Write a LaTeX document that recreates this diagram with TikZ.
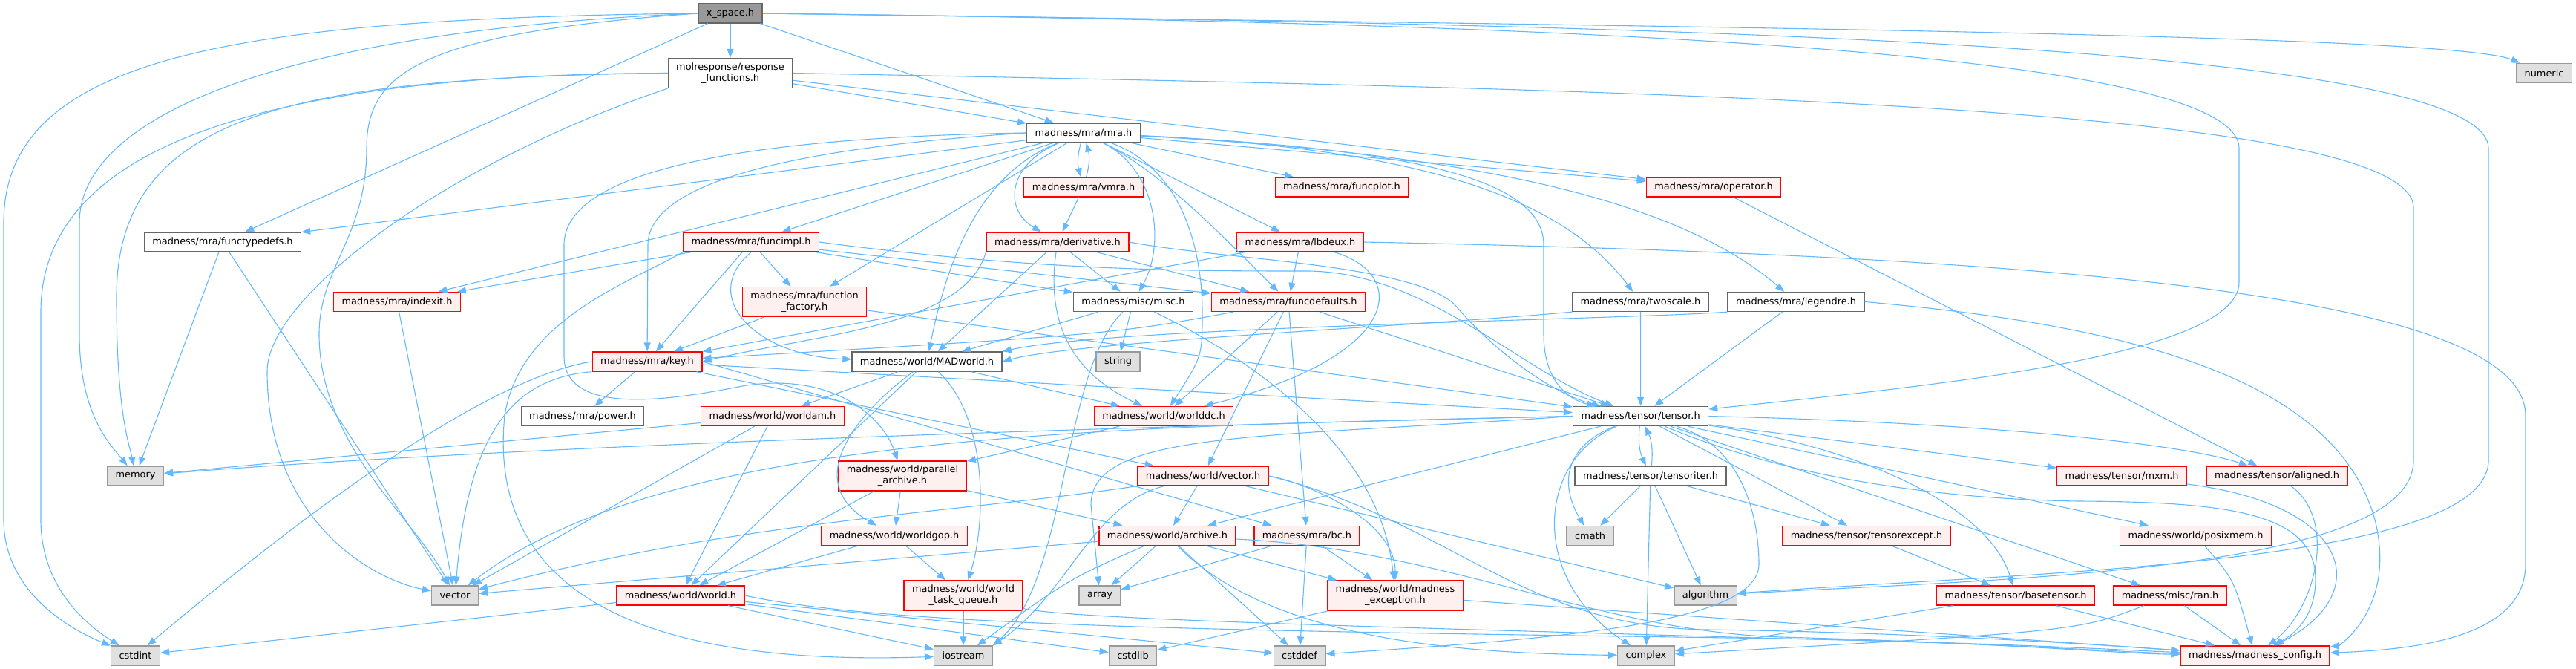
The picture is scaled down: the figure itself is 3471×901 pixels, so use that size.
\documentclass[tikz,border=0pt]{standalone}
\usepackage{fontspec}
\setmainfont{DejaVu Sans}
\usepackage{xcolor}
\usepackage{tikz}
\usetikzlibrary{arrows.meta}

\definecolor{edgeblue}{HTML}{63B8FF}
\definecolor{redfill}{HTML}{FFF0F0}
\definecolor{sysfill}{HTML}{E0E0E0}
\definecolor{grey40}{HTML}{666666}
\definecolor{grey60}{HTML}{999999}

\begin{document}
\begin{tikzpicture}[x=1pt, y=-1pt, >={Triangle[length=12pt, width=9pt]},
    file/.style={draw, rectangle, line width=1.3pt, inner xsep=11pt, inner ysep=0pt,
        minimum height=26pt, align=center, font=\fontsize{12.9}{15}\selectfont},
    redfile/.style={file, draw=red, fill=redfill},
    docfile/.style={file, draw=grey40, fill=white},
    sysfile/.style={file, draw=grey60, fill=sysfill},
    topfile/.style={file, draw=grey40, fill=grey60},
    twoline/.style={minimum height=40pt},
    edge/.style={->, draw=edgeblue, line width=1.1pt}]
    \useasboundingbox (0,0) rectangle (3471,901);

    % 1. Files
    \node[topfile] (xs) at (984,18) {x\_space.h};
    \node[docfile,twoline] (resp) at (984,98.5) {molresponse/response\\\_functions.h};
    \node[docfile] (mra) at (1460,179) {madness/mra/mra.h};
    \node[redfile] (vmra) at (1460,252) {madness/mra/vmra.h};
    \node[redfile] (funcplot) at (1808,252) {madness/mra/funcplot.h};
    \node[redfile] (operator) at (2309,252) {madness/mra/operator.h};
    \node[docfile] (ftd) at (300,326) {madness/mra/functypedefs.h};
    \node[redfile] (funcimpl) at (1012,326) {madness/mra/funcimpl.h};
    \node[redfile] (deriv) at (1425,326) {madness/mra/derivative.h};
    \node[redfile] (lbdeux) at (1752,326) {madness/mra/lbdeux.h};
    \node[redfile] (indexit) at (535,406.5) {madness/mra/indexit.h};
    \node[redfile,twoline] (ffact) at (1084,406.5) {madness/mra/function\\\_factory.h};
    \node[docfile] (misc) at (1527,406.5) {madness/misc/misc.h};
    \node[redfile] (fdef) at (1736,406.5) {madness/mra/funcdefaults.h};
    \node[docfile] (twoscale) at (2210.5,406.5) {madness/mra/twoscale.h};
    \node[docfile] (legendre) at (2420,406.5) {madness/mra/legendre.h};
    \node[sysfile] (numeric) at (3428,98.4) {numeric};
    \node[redfile] (key) at (872,487) {madness/mra/key.h};
    \node[docfile] (madworld) at (1249,487) {madness/world/MADworld.h};
    \node[sysfile] (string) at (1506.5,487) {string};
    \node[docfile] (power) at (785,560.5) {madness/mra/power.h};
    \node[redfile] (worldam) at (1041,560.5) {madness/world/worldam.h};
    \node[redfile] (worlddc) at (1568,560.5) {madness/world/worlddc.h};
    \node[docfile] (tensor) at (2210.6,560.5) {madness/tensor/tensor.h};
    \node[sysfile] (memory) at (182.5,641) {memory};
    \node[redfile,twoline] (parch) at (1216,641) {madness/world/parallel\\\_archive.h};
    \node[redfile] (vectorh) at (1621,641) {madness/world/vector.h};
    \node[docfile] (tensoriter) at (2224,641) {madness/tensor/tensoriter.h};
    \node[redfile] (mxm) at (2859,641) {madness/tensor/mxm.h};
    \node[redfile] (aligned) at (3068,641) {madness/tensor/aligned.h};
    \node[redfile] (worldgop) at (1205,721.5) {madness/world/worldgop.h};
    \node[redfile] (archive) at (1573,721.5) {madness/world/archive.h};
    \node[redfile] (bc) at (1761,721.5) {madness/mra/bc.h};
    \node[sysfile] (cmath) at (2142.5,721.5) {cmath};
    \node[redfile] (tensorexcept) at (2515,721.5) {madness/tensor/tensorexcept.h};
    \node[redfile] (posixmem) at (2958.5,721.5) {madness/world/posixmem.h};
    \node[sysfile] (vector) at (613,802) {vector};
    \node[redfile] (world) at (917,802) {madness/world/world.h};
    \node[redfile,twoline] (wtq) at (1298,802) {madness/world/world\\\_task\_queue.h};
    \node[sysfile] (array) at (1482,802) {array};
    \node[redfile,twoline] (mexc) at (1880,802) {madness/world/madness\\\_exception.h};
    \node[sysfile] (algorithm) at (2298,802) {algorithm};
    \node[redfile] (basetensor) at (2716,802) {madness/tensor/basetensor.h};
    \node[redfile] (ran) at (2924,802) {madness/misc/ran.h};
    \node[sysfile] (cstdint) at (182.5,883) {cstdint};
    \node[sysfile] (iostream) at (1298,883) {iostream};
    \node[sysfile] (cstdlib) at (1526.5,883) {cstdlib};
    \node[sysfile] (cstddef) at (1751,883) {cstddef};
    \node[sysfile] (complex) at (2218,883) {complex};
    \node[redfile] (config) at (3038.5,883) {madness/madness\_config.h};

    % 2. Straight includes
    \foreach \s/\t in {xs/resp, xs/mra, xs/ftd, resp/mra, resp/operator,
        mra/funcimpl, mra/ffact, mra/lbdeux, mra/funcplot, mra/operator,
        mra/ftd, mra/indexit, vmra/deriv, funcimpl/ffact, funcimpl/indexit, funcimpl/key,
        funcimpl/fdef, funcimpl/misc, deriv/fdef, deriv/misc, deriv/madworld, ffact/key,
        ffact/tensor, misc/string, misc/madworld, fdef/worlddc, fdef/vectorh, fdef/bc,
        fdef/tensor, lbdeux/fdef, lbdeux/key, operator/aligned, twoscale/tensor,
        legendre/tensor, ftd/memory, ftd/vector, indexit/vector, key/power, key/vectorh,
        key/tensor, madworld/worldam, madworld/worlddc, madworld/world, worldam/world,
        worldam/memory, worldam/vector, worlddc/parch, parch/worldgop, parch/world,
        parch/archive, vectorh/archive, vectorh/algorithm, worldgop/world, worldgop/wtq,
        archive/array, archive/cstddef, archive/mexc, archive/vector, bc/array, bc/cstddef,
        bc/mexc, world/cstdint, world/iostream, world/cstdlib, world/cstddef, wtq/iostream,
        mexc/config, mexc/cstdlib, tensor/tensorexcept, tensor/mxm, tensor/posixmem,
        tensor/ran, tensor/archive, tensoriter/cmath, tensoriter/complex,
        tensoriter/algorithm, tensoriter/tensorexcept, tensorexcept/basetensor,
        basetensor/config, basetensor/complex, ran/config}
        \draw[edge] (\s) -- (\t);

    % 3. Cycles
    \draw[edge] (mra) to[bend right=15] (vmra);
    \draw[edge] (vmra) to[bend right=15] (mra);
    \draw[edge] (tensor) to[bend right=15] (tensoriter);
    \draw[edge] (tensoriter) to[bend right=15] (tensor);

    % 4. Long routes from the top
    \draw[edge] (xs.west) .. controls (300,25) and (5,80) .. (5,300) -- (5,700)
        .. controls (5,800) and (100,850) .. (cstdint);
    \draw[edge] (resp.west) .. controls (350,100) and (55,200) .. (55,420) -- (55,700)
        .. controls (55,800) and (130,850) .. (cstdint);
    \draw[edge] (xs.west) .. controls (400,40) and (107,150) .. (107,300) -- (107,450)
        .. controls (107,560) and (150,600) .. (memory);
    \draw[edge] (resp.west) .. controls (400,105) and (157,150) .. (157,400)
        .. controls (157,560) and (175,600) .. (memory);
    \draw[edge] (xs.west) .. controls (560,45) and (494,100) .. (494,200)
        .. controls (494,320) and (430,360) .. (430,450)
        .. controls (430,600) and (560,700) .. (vector);
    \draw[edge] (resp.south west) .. controls (600,220) and (360,400) .. (360,500)
        .. controls (360,700) and (500,780) .. (vector);
    \draw[edge] (xs.east) .. controls (2200,35) and (3300,45) .. (numeric);
    \draw[edge] (xs.east) .. controls (2000,30) and (3017,60) .. (3017,200) -- (3017,380)
        .. controls (3017,480) and (2600,520) .. (tensor);
    \draw[edge] (xs.east) .. controls (2100,32) and (3353,50) .. (3353,200) -- (3353,620)
        .. controls (3353,760) and (2750,770) .. (algorithm);
    \draw[edge] (resp.east) .. controls (2200,120) and (3252,140) .. (3252,280) -- (3252,620)
        .. controls (3252,770) and (2700,780) .. (algorithm);

    % 5. Routes around boxes
    \draw[edge] (mra) .. controls (1360,220) and (1350,280) .. (deriv);
    \draw[edge] (mra) .. controls (1560,230) and (1570,330) .. (misc);
    \draw[edge] (mra) .. controls (1560,230) and (1630,300) .. (fdef);
    \draw[edge] (mra) .. controls (1900,200) and (2100,260) .. (twoscale);
    \draw[edge] (mra) .. controls (1950,205) and (2250,260) .. (legendre);
    \draw[edge] (mra) .. controls (1900,200) and (2080,240) .. (2080,330) -- (2080,450)
        .. controls (2080,520) and (2120,540) .. (tensor);
    \draw[edge] (mra) .. controls (1600,230) and (1620,350) .. (1620,420)
        .. controls (1620,480) .. (worlddc);
    \draw[edge] (mra) .. controls (1330,230) and (1280,330) .. (madworld);
    \draw[edge] (mra.west) .. controls (1050,200) and (873,250) .. (873,330) -- (key);
    \draw[edge] (mra.west) .. controls (1000,185) and (760,230) .. (760,330) -- (760,480)
        .. controls (760,560) and (900,540) .. (1000,520)
        .. controls (1120,500) and (1190,560) .. (parch);
    \draw[edge] (funcimpl.south) .. controls (940,400) and (1020,480) .. (madworld);
    \draw[edge] (funcimpl.east) .. controls (1400,365) and (1600,365) .. (1760,365)
        .. controls (1920,365) and (2050,500) .. (tensor);
    \draw[edge] (funcimpl.south west) .. controls (850,380) and (700,430) .. (680,560)
        .. controls (660,760) and (800,900) .. (iostream);
    \draw[edge] (deriv.east) .. controls (1650,350) and (1900,355) .. (1960,410)
        .. controls (2010,470) and (2090,530) .. (tensor);
    \draw[edge] (deriv.south west) .. controls (1300,440) and (1100,450) .. (key.east);
    \draw[edge] (deriv) .. controls (1410,430) and (1440,500) .. (worlddc);
    \draw[edge] (misc) .. controls (1680,480) and (1860,600) .. (mexc);
    \draw[edge] (misc) .. controls (1430,500) and (1440,780) .. (iostream.north east);
    \draw[edge] (fdef) .. controls (1500,450) .. (key);
    \draw[edge] (lbdeux) .. controls (1900,370) and (1890,480) .. (worlddc);
    \draw[edge] (lbdeux.east) .. controls (2800,345) and (3403,400) .. (3403,560) -- (3403,760)
        .. controls (3403,860) and (3250,875) .. (config);
    \draw[edge] (twoscale.south west) .. controls (1900,440) and (1450,460) .. (madworld.east);
    \draw[edge] (legendre.south west) .. controls (2200,430) and (1500,440) .. (madworld.north east);
    \draw[edge] (legendre.east) .. controls (2900,440) and (3150,520) .. (3200,700)
        .. controls (3230,820) and (3150,870) .. (config);
    \draw[edge] (key.east) -- (bc);
    \draw[edge] (key.west) .. controls (650,510) and (400,700) .. (cstdint);
    \draw[edge] (key.south west) .. controls (680,510) and (630,600) .. (vector);
    \draw[edge] (madworld) .. controls (1150,560) and (1080,650) .. (worldgop);
    \draw[edge] (madworld) .. controls (1330,560) and (1330,700) .. (wtq);
    \draw[edge] (vectorh) .. controls (1470,680) and (1440,800) .. (iostream.north east);
    \draw[edge] (vectorh) .. controls (1300,690) and (1000,700) .. (vector);
    \draw[edge] (vectorh.east) .. controls (1760,650) and (1880,700) .. (mexc);
    \draw[edge] (vectorh.east) .. controls (1950,700) and (2050,845) .. (2300,848)
        .. controls (2600,852) and (2850,870) .. (config);
    \draw[edge] (archive) .. controls (1440,780) .. (iostream);
    \draw[edge] (archive) .. controls (1720,870) and (2000,880) .. (complex);
    \draw[edge] (archive) .. controls (1950,740) and (2150,850) .. (2400,858)
        .. controls (2700,866) and (2850,880) .. (config);
    \draw[edge] (world.east) .. controls (1200,845) and (1700,850) .. (2400,860)
        .. controls (2700,866) and (2850,875) .. (config);
    \draw[edge] (wtq) .. controls (1450,835) and (1900,845) .. (2400,860)
        .. controls (2700,866) and (2850,878) .. (config);
    \draw[edge] (tensor) .. controls (2110,600) and (2100,650) .. (cmath);
    \draw[edge] (tensor) .. controls (2070,620) and (2060,780) .. (complex);
    \draw[edge] (tensor.east) .. controls (2700,570) and (2950,600) .. (aligned);
    \draw[edge] (tensor) .. controls (2500,600) and (2680,680) .. (basetensor);
    \draw[edge] (tensor) .. controls (2400,640) and (2600,672) .. (2800,675)
        .. controls (3000,676) and (3120,690) .. (3120,780)
        .. controls (3120,840) and (3080,860) .. (config);
    \draw[edge] (tensor) .. controls (2350,600) and (2370,700) .. (2370,760)
        .. controls (2370,840) and (2100,860) .. (cstddef);
    \draw[edge] (tensor.west) .. controls (1500,575) and (900,580) .. (vector);
    \draw[edge] (tensor.west) .. controls (1500,575) and (700,600) .. (memory);
    \draw[edge] (tensor.west) .. controls (1700,590) and (1470,580) .. (1470,680) -- (array);
    \draw[edge] (mxm) .. controls (3170,680) and (3200,800) .. (config);
    \draw[edge] (aligned) .. controls (3150,700) and (3120,820) .. (config);
    \draw[edge] (posixmem) .. controls (3010,780) .. (config);
    \draw[edge] (ran) .. controls (2800,850) .. (complex);
\end{tikzpicture}
\end{document}
